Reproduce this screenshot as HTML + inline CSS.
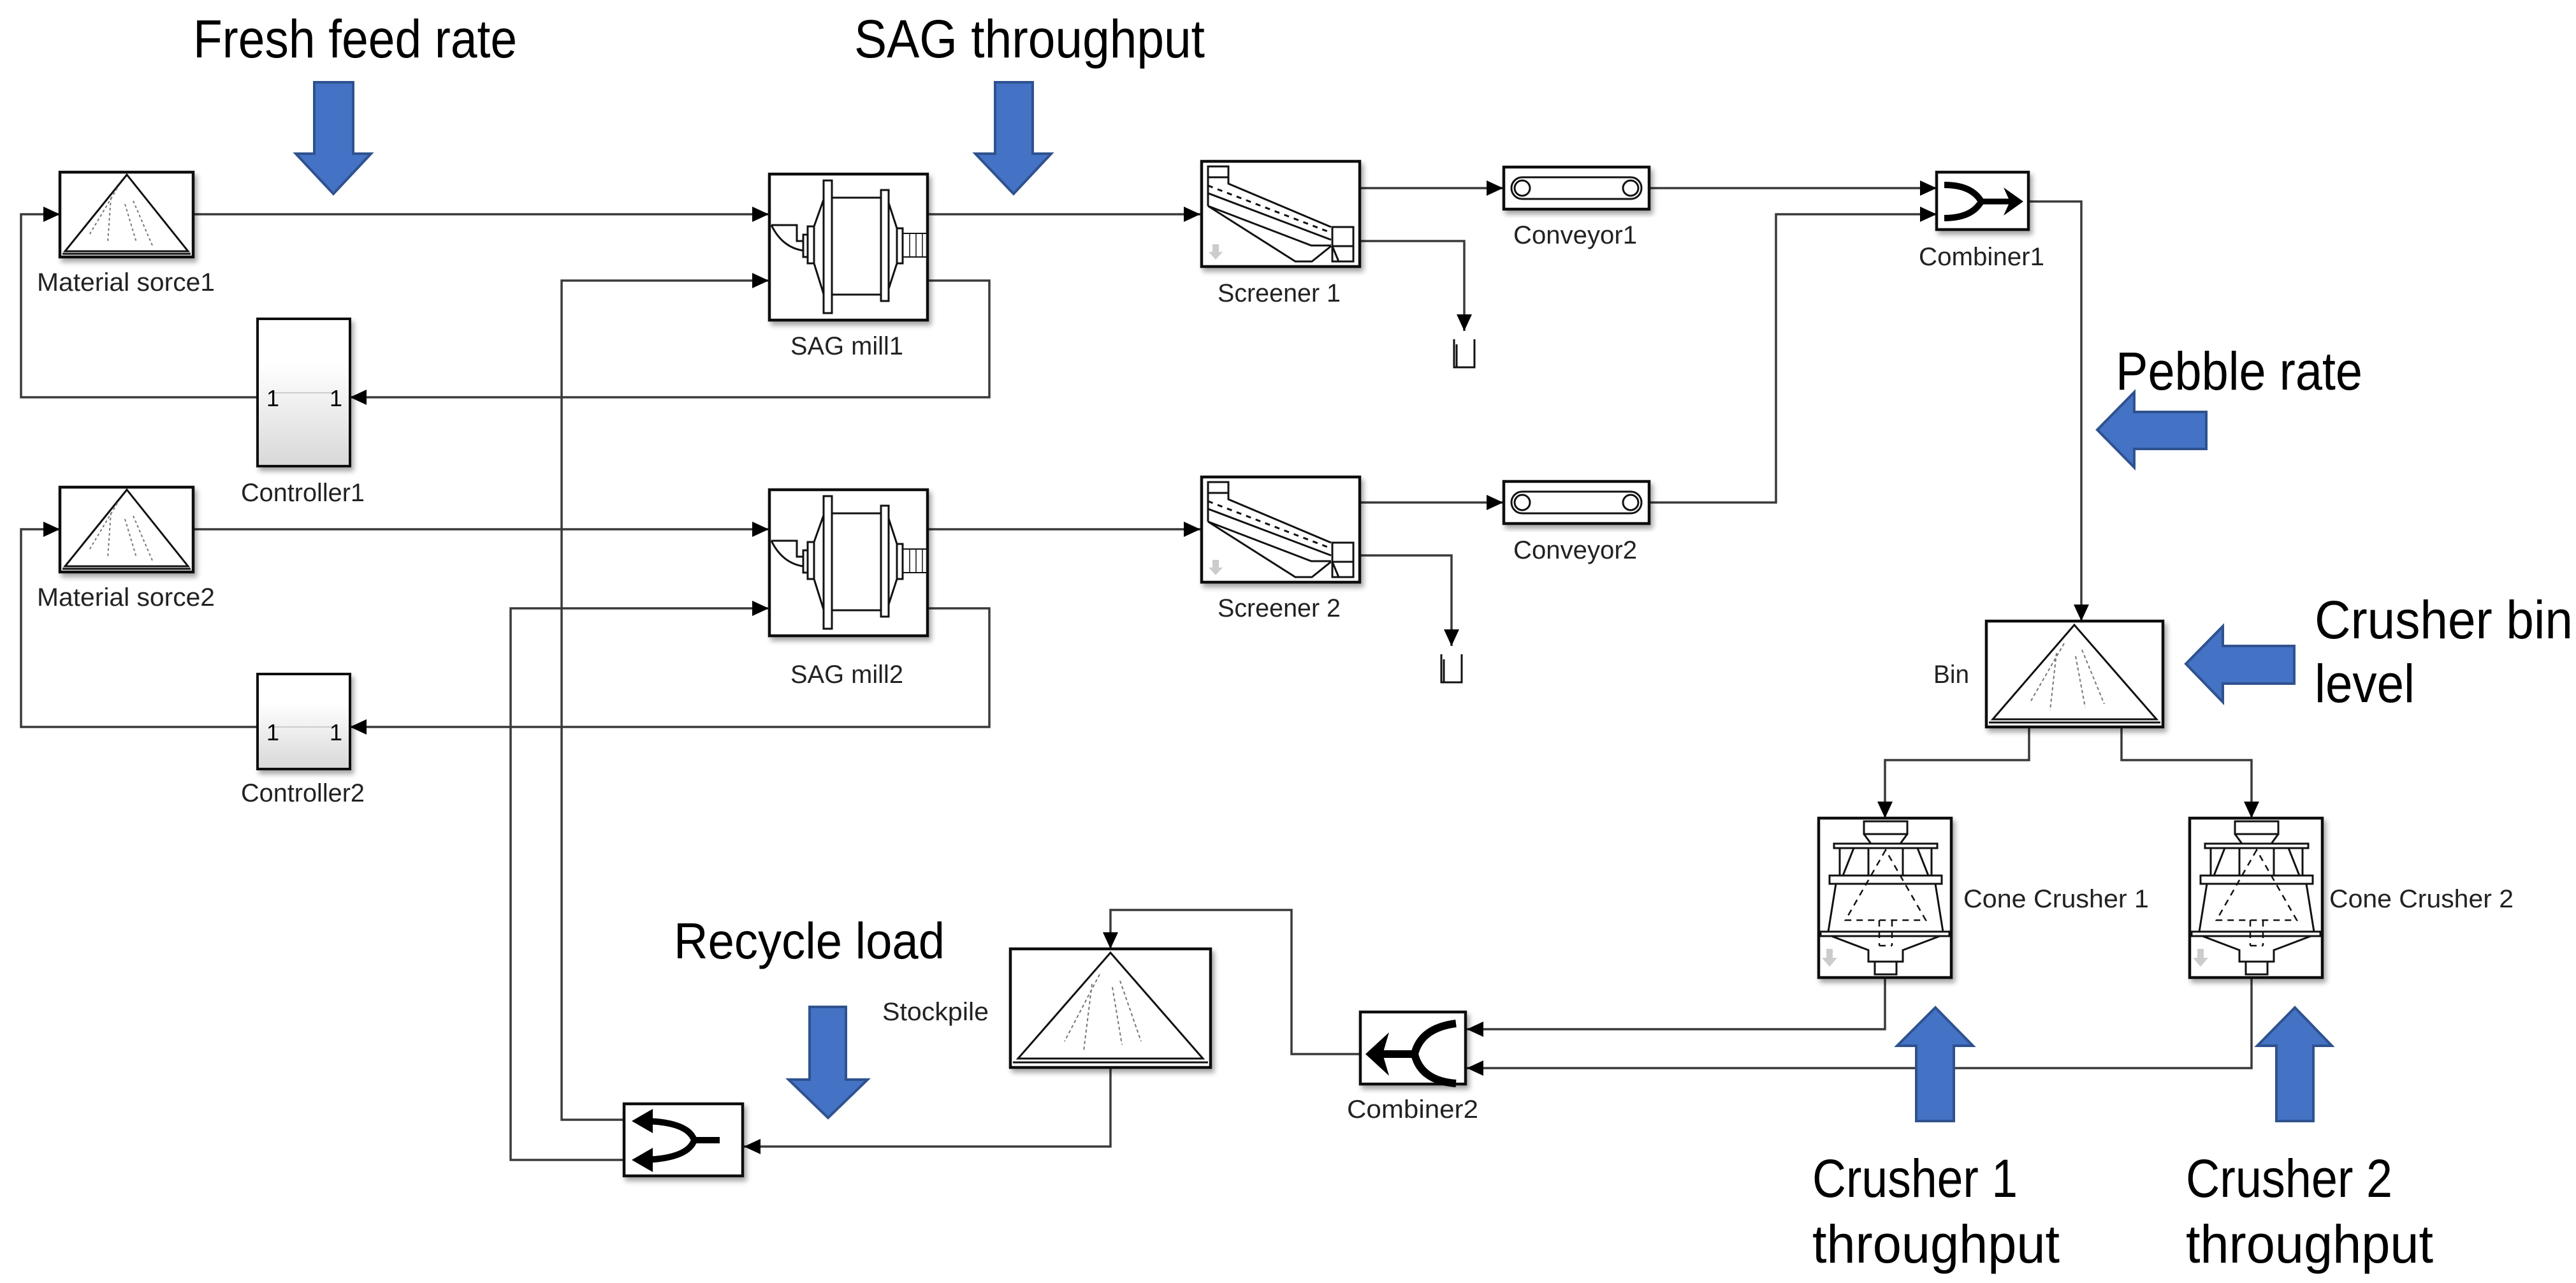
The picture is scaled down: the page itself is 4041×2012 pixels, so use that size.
<!DOCTYPE html>
<html><head><meta charset="utf-8">
<style>
html,body{margin:0;padding:0;background:#fff;}
svg{display:block;}
.t{font-family:"Liberation Sans",Arial,sans-serif;fill:#000;}
.s{font-family:"Liberation Sans",Arial,sans-serif;fill:#222;font-size:40px;}
.w{fill:none;stroke:#3a3a3a;stroke-width:3.5;}
.b{fill:#fff;stroke:#111;stroke-width:4.5;}
.i{fill:none;stroke:#111;stroke-width:3;}
.ba{fill:#4472c4;stroke:#2f528f;stroke-width:4;}
</style></head><body>
<svg width="4041" height="2012" viewBox="0 0 4041 2012" xmlns="http://www.w3.org/2000/svg">
<defs>
<marker id="a" markerUnits="userSpaceOnUse" markerWidth="30" markerHeight="30" refX="28" refY="15" orient="auto">
<path d="M2,3 L28,15 L2,27 Z" fill="#000"/></marker>
<linearGradient id="g" x1="0" y1="0" x2="0" y2="1"><stop offset="0.3" stop-color="#fff"/><stop offset="1" stop-color="#d8d8d8"/></linearGradient>
<filter id="sh" x="-10%" y="-10%" width="130%" height="130%"><feDropShadow dx="4" dy="6" stdDeviation="4" flood-color="#000" flood-opacity="0.35"/></filter>
</defs>

<g class="w" marker-end="url(#a)">
<polyline points="303,336 1206,336"/>
<polyline points="404,623 33,623 33,336 94,336"/>
<polyline points="1455,440 1552,440 1552,623 549,623"/>
<polyline points="1455,336 1883,336"/>
<polyline points="979,1756 881,1756 881,440 1206,440"/>
<polyline points="303,830 1206,830"/>
<polyline points="404,1140 33,1140 33,830 94,830"/>
<polyline points="1455,954 1552,954 1552,1140 549,1140"/>
<polyline points="1455,830 1883,830"/>
<polyline points="979,1819 801,1819 801,954 1206,954"/>
<polyline points="2133,295 2358,295"/>
<polyline points="2133,378 2297,378 2297,519"/>
<polyline points="2587,295 3038,295"/>
<polyline points="2133,788 2358,788"/>
<polyline points="2133,871 2277,871 2277,1013"/>
<polyline points="2587,788 2786,788 2786,336 3038,336"/>
<polyline points="3183,316 3265,316 3265,974"/>
<polyline points="3183,1140 3183,1192 2957,1192 2957,1283"/>
<polyline points="3328,1140 3328,1192 3532,1192 3532,1283"/>
<polyline points="2957,1533 2957,1614 2301,1614"/>
<polyline points="3532,1533 3532,1675 2301,1675"/>
<polyline points="2134,1653 2026,1653 2026,1427 1742,1427 1742,1488"/>
<polyline points="1742,1674 1742,1798 1167,1798"/>
</g>

<path class="i" d="M2281,532 V576 H2313 V532 M2285,540 V576" />
<path class="i" d="M2261,1026 V1070 H2293 V1026 M2265,1034 V1070" />

<g id="src1" transform="translate(94,270)">
<rect class="b" width="209" height="133" filter="url(#sh)"/>
<path class="i" d="M105,4 L8,124 L201,124 Z"/><line x1="4" y1="128" x2="205" y2="128" stroke="#111" stroke-width="3"/>
<path d="M90,25 L45,100 M80,40 L75,110 M102,50 L120,110 M115,45 L145,115" stroke="#777" stroke-width="2" stroke-dasharray="4,4" fill="none"/>
</g>
<use href="#src1" transform="translate(0,494)"/>
<g transform="translate(3116,974)">
<rect class="b" width="277" height="166" filter="url(#sh)"/>
<path class="i" d="M138,6 L10,154 L267,154 Z"/><line x1="4" y1="159" x2="273" y2="159" stroke="#111" stroke-width="3"/>
<path d="M122,35 L70,125 M110,50 L100,140 M140,55 L155,135 M150,45 L185,130" stroke="#777" stroke-width="2" stroke-dasharray="5,4" fill="none"/>
</g>
<g transform="translate(1585,1488)">
<rect class="b" width="314" height="186" filter="url(#sh)"/>
<path class="i" d="M157,6 L12,172 L302,172 Z"/><line x1="4" y1="178" x2="310" y2="178" stroke="#111" stroke-width="3"/>
<path d="M140,40 L85,145 M128,55 L115,160 M160,60 L175,150 M172,50 L205,145" stroke="#777" stroke-width="2" stroke-dasharray="5,4" fill="none"/>
</g>

<g transform="translate(404,500)">
<rect width="145" height="231" fill="url(#g)" stroke="#111" stroke-width="4" filter="url(#sh)"/>
<line x1="20" y1="116" x2="125" y2="116" stroke="#ccc" stroke-width="2"/>
<text class="t" x="14" y="137" font-size="36">1</text><text class="t" x="113" y="137" font-size="36">1</text>
</g>
<g transform="translate(404,1057)">
<rect width="145" height="149" fill="url(#g)" stroke="#111" stroke-width="4" filter="url(#sh)"/>
<line x1="20" y1="83" x2="125" y2="83" stroke="#ccc" stroke-width="2"/>
<text class="t" x="14" y="104" font-size="36">1</text><text class="t" x="113" y="104" font-size="36">1</text>
</g>

<g id="mill" transform="translate(1207,273)">
<rect class="b" width="248" height="229" filter="url(#sh)"/>
<g class="i" stroke-width="3">
<rect x="85" y="10" width="13" height="208" fill="#fff"/>
<rect x="175" y="25" width="12" height="174" fill="#fff"/>
<line x1="98" y1="37" x2="175" y2="37"/><line x1="98" y1="189" x2="175" y2="189"/>
<path d="M85,40 L70,82 M85,188 L70,140 M187,45 L200,85 M187,180 L200,140"/>
<rect x="60" y="82" width="10" height="58"/><rect x="53" y="95" width="7" height="35"/>
<rect x="200" y="85" width="9" height="55"/>
<rect x="209" y="93" width="38" height="37" stroke-width="2"/>
<path d="M220,93 V130 M230,93 V130 M240,93 V130" stroke-width="1.5"/>
<path d="M3,80 H43 V105 H53 M3,80 Q20,115 53,120"/>
</g>
</g>
<use href="#mill" transform="translate(0,495)"/>

<g id="scr" transform="translate(1885,253)">
<rect class="b" width="248" height="165" filter="url(#sh)"/>
<g class="i" stroke-width="3">
<rect x="10" y="8" width="32" height="17"/>
<path d="M10,25 V70 M42,25 V35 L203,103 M10,50 L203,123 M10,70 L172,132 L203,132 M10,70 L147,157 H173 L203,133"/>
<path d="M10,38 L198,110" stroke-dasharray="8,8"/>
<rect x="205" y="103" width="33" height="54"/><line x1="205" y1="133" x2="238" y2="133"/>
<path d="M205,133 L215,157"/>
</g>
<path d="M17,130 h10 v12 h6 l-11,12 l-11,-12 h6 z" fill="#ccc"/>
</g>
<use href="#scr" transform="translate(0,495)"/>

<g id="conv" transform="translate(2359,262)">
<rect class="b" width="228" height="66" filter="url(#sh)"/>
<rect x="12" y="16" width="204" height="34" rx="17" class="i" stroke-width="5"/>
<circle cx="29" cy="33" r="12" class="i" stroke-width="4"/><circle cx="199" cy="33" r="12" class="i" stroke-width="4"/>
</g>
<use href="#conv" transform="translate(0,493)"/>

<g transform="translate(3038,270)">
<rect class="b" width="144" height="90" filter="url(#sh)"/>
<path d="M12,20 Q55,20 70,46 Q55,72 12,72" fill="none" stroke="#000" stroke-width="10"/>
<path d="M68,46 H120" stroke="#000" stroke-width="9"/>
<path d="M105,24 L136,46 L105,68 L115,46 Z" fill="#000"/>
</g>
<g transform="translate(2134,1587)">
<rect class="b" width="165" height="113" filter="url(#sh)"/>
<path d="M150,18 Q95,25 85,66 Q95,108 150,112" fill="none" stroke="#000" stroke-width="12"/>
<path d="M85,66 H30" stroke="#000" stroke-width="12"/>
<path d="M45,32 L8,66 L45,100 L35,66 Z" fill="#000"/>
</g>
<g transform="translate(979,1731)">
<rect class="b" width="186" height="113" filter="url(#sh)"/>
<path d="M150,57 H110 M110,57 Q100,28 30,27 M110,57 Q100,86 30,88" fill="none" stroke="#000" stroke-width="10"/>
<path d="M45,8 L12,27 L45,46 Z M45,69 L12,88 L45,107 Z" fill="#000"/>
</g>

<g id="cc" transform="translate(2853,1283)">
<rect class="b" width="208" height="250" filter="url(#sh)"/>
<g class="i" stroke-width="3.5">
<rect x="71" y="5" width="68" height="20"/>
<path d="M71,25 L82,40 M139,25 L128,40"/>
<rect x="24" y="40" width="162" height="7"/>
<path d="M33,47 V90 M177,47 V90 M55,47 L38,90 M155,47 L172,90 M78,47 V90 M132,47 V90"/>
<rect x="17" y="90" width="176" height="13"/>
<path d="M27,103 L15,178 M183,103 L195,178"/>
<path d="M105,50 L42,160 H168 Z M95,160 V200 M115,160 V200 M95,200 H115" stroke-dasharray="10,8" stroke-width="2.5"/>
<rect x="3" y="178" width="202" height="7"/>
<path d="M20,185 L78,207 V225 H132 V207 L190,185"/>
<rect x="88" y="225" width="34" height="20"/>
</g>
<path d="M12,205 h10 v14 h7 l-12,14 l-12,-14 h7 z" fill="#ccc"/>
</g>
<use href="#cc" transform="translate(582,0)"/>

<text class="s" x="58" y="456" textLength="279" lengthAdjust="spacingAndGlyphs">Material sorce1</text>
<text class="s" x="58" y="950" textLength="279" lengthAdjust="spacingAndGlyphs">Material sorce2</text>
<text class="s" x="378" y="786" textLength="194" lengthAdjust="spacingAndGlyphs">Controller1</text>
<text class="s" x="378" y="1257" textLength="194" lengthAdjust="spacingAndGlyphs">Controller2</text>
<text class="s" x="1240" y="556" textLength="177" lengthAdjust="spacingAndGlyphs">SAG mill1</text>
<text class="s" x="1240" y="1071" textLength="177" lengthAdjust="spacingAndGlyphs">SAG mill2</text>
<text class="s" x="1910" y="473" textLength="193" lengthAdjust="spacingAndGlyphs">Screener 1</text>
<text class="s" x="1910" y="967" textLength="193" lengthAdjust="spacingAndGlyphs">Screener 2</text>
<text class="s" x="2374" y="382" textLength="194" lengthAdjust="spacingAndGlyphs">Conveyor1</text>
<text class="s" x="2374" y="876" textLength="194" lengthAdjust="spacingAndGlyphs">Conveyor2</text>
<text class="s" x="3010" y="416" textLength="197" lengthAdjust="spacingAndGlyphs">Combiner1</text>
<text class="s" x="3033" y="1071" textLength="56" lengthAdjust="spacingAndGlyphs">Bin</text>
<text class="s" x="3080" y="1423" textLength="291" lengthAdjust="spacingAndGlyphs">Cone Crusher 1</text>
<text class="s" x="3654" y="1423" textLength="289" lengthAdjust="spacingAndGlyphs">Cone Crusher 2</text>
<text class="s" x="1384" y="1600" textLength="167" lengthAdjust="spacingAndGlyphs">Stockpile</text>
<text class="s" x="2113" y="1753" textLength="206" lengthAdjust="spacingAndGlyphs">Combiner2</text>

<path class="ba" d="M493,129 H554 V241 H582 L523,304 L464,241 H493 Z"/>
<path class="ba" d="M1561,129 H1620 V241 H1649 L1590,304 L1530,241 H1561 Z"/>
<path class="ba" d="M3461,646 V704 H3348 V733 L3290,674 L3348,615 V646 Z"/>
<path class="ba" d="M3599,1013 V1072 H3487 V1101 L3429,1041 L3487,982 V1013 Z"/>
<path class="ba" d="M1270,1579 H1327 V1693 H1361 L1299,1753 L1237,1693 H1270 Z"/>
<path class="ba" d="M3006,1758 V1640 H2976 L3036,1580 L3095,1640 H3065 V1758 Z"/>
<path class="ba" d="M3571,1758 V1640 H3541 L3600,1580 L3658,1640 H3629 V1758 Z"/>

<text class="t" x="303" y="90" font-size="84" textLength="508" lengthAdjust="spacingAndGlyphs">Fresh feed rate</text>
<text class="t" x="1340" y="90" font-size="84" textLength="550" lengthAdjust="spacingAndGlyphs">SAG throughput</text>
<text class="t" x="3319" y="611" font-size="84" textLength="387" lengthAdjust="spacingAndGlyphs">Pebble rate</text>
<text class="t" x="3631" y="1001" font-size="84" textLength="405" lengthAdjust="spacingAndGlyphs">Crusher bin</text>
<text class="t" x="3631" y="1101" font-size="84" textLength="157" lengthAdjust="spacingAndGlyphs">level</text>
<text class="t" x="1057" y="1503" font-size="80" textLength="425" lengthAdjust="spacingAndGlyphs">Recycle load</text>
<text class="t" x="2843" y="1877" font-size="84" textLength="322" lengthAdjust="spacingAndGlyphs">Crusher 1</text>
<text class="t" x="2843" y="1980" font-size="84" textLength="388" lengthAdjust="spacingAndGlyphs">throughput</text>
<text class="t" x="3429" y="1877" font-size="84" textLength="324" lengthAdjust="spacingAndGlyphs">Crusher 2</text>
<text class="t" x="3429" y="1980" font-size="84" textLength="388" lengthAdjust="spacingAndGlyphs">throughput</text>
</svg>
</body></html>
